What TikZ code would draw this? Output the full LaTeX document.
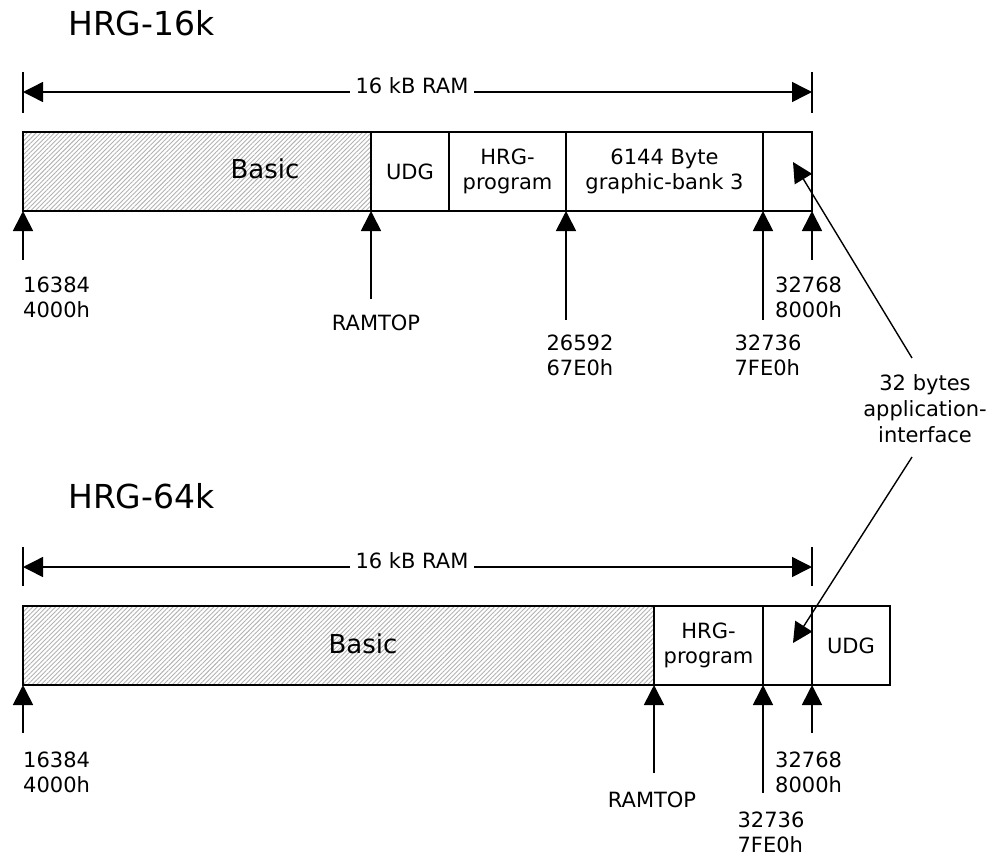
\documentclass[tikz,border=0pt]{standalone}
\usepackage{fontspec}
\setmainfont{DejaVu Sans}
\usetikzlibrary{arrows.meta,patterns.meta,positioning}

\begin{document}
\begin{tikzpicture}[x=1pt, y=-1pt,
    txt/.style={font=\fontsize{21}{25}\selectfont, align=center, inner sep=0pt},
    addr/.style={txt, align=left},
    title/.style={font=\fontsize{33}{40}\selectfont, anchor=base west, inner sep=0pt},
    part/.style={draw, line width=1.7pt, minimum height=79pt, inner sep=0pt, outer sep=0pt,
                 font=\fontsize{21}{25}\selectfont, align=center},
    hatched/.style={pattern={Lines[angle=45,distance=3.2pt,line width=0.9pt]}, pattern color=black!30},
    bigtxt/.style={font=\fontsize{26}{30}\selectfont, inner sep=0pt},
    dim/.style={line width=1.4pt, {Triangle[length=20pt,width=20pt]}-{Triangle[length=20pt,width=20pt]}},
    tick/.style={line width=1.4pt},
    ptr/.style={line width=1.7pt, -{Triangle[length=20pt,width=20pt]}},
    note/.style={line width=1.4pt, -{Triangle[length=20pt,width=20pt]}}]
    \useasboundingbox (0,0) rectangle (1000,857);

    % ---------------- HRG-16k ----------------
    \node[title] (t16) at (68,35) {HRG-16k};

    % 16 kB span
    \coordinate (l16) at (23,92);
    \coordinate (r16) at (812,92);
    \draw[dim] (l16) -- (r16);
    \draw[tick] (23,72) -- (23,113);
    \draw[tick] (812,72) -- (812,113);
    \node[txt, fill=white, inner xsep=6pt, inner ysep=4pt] (ram16) at (412,86) {16 kB RAM};

    % memory blocks
    \node[part, hatched, minimum width=348pt, anchor=north west] (basic16) at (23,132) {};
    \node[part, minimum width=78pt, right=0pt of basic16] (udg16) {UDG};
    \node[part, minimum width=117pt, right=0pt of udg16] (hrg16) {HRG-\\program};
    \node[part, minimum width=197pt, right=0pt of hrg16] (bank16) {6144 Byte\\graphic-bank 3};
    \node[part, minimum width=49pt, right=0pt of bank16] (api16) {};
    \node[bigtxt] (basictxt16) at (265,169) {Basic};

    % addresses
    \coordinate (a16) at (23,260);
    \draw[ptr] (a16) -- (basic16.south west);
    \node[addr, anchor=north west] (a16txt) at (23,277) {16384\\4000h};

    \coordinate (rt16) at (371,299);
    \draw[ptr] (rt16) -- (basic16.south east);
    \node[txt, anchor=north] (rt16txt) at (376,315) {RAMTOP};

    \coordinate (hp16) at (566,320);
    \draw[ptr] (hp16) -- (hrg16.south east);
    \node[addr, anchor=north] (hp16txt) at (580,335) {26592\\67E0h};

    \coordinate (gb16) at (763,320);
    \draw[ptr] (gb16) -- (bank16.south east);
    \node[addr, anchor=north] (gb16txt) at (768,335) {32736\\7FE0h};

    \coordinate (e16) at (812,260);
    \draw[ptr] (e16) -- (api16.south east);
    \node[addr, anchor=north west] (e16txt) at (775,277) {32768\\8000h};

    % ---------------- HRG-64k ----------------
    \node[title] (t64) at (68,508) {HRG-64k};

    % 16 kB span
    \coordinate (l64) at (23,567);
    \coordinate (r64) at (812,567);
    \draw[dim] (l64) -- (r64);
    \draw[tick] (23,547) -- (23,586);
    \draw[tick] (812,547) -- (812,586);
    \node[txt, fill=white, inner xsep=6pt, inner ysep=4pt] (ram64) at (412,561) {16 kB RAM};

    % memory blocks
    \node[part, hatched, minimum width=631pt, anchor=north west] (basic64) at (23,606) {};
    \node[part, minimum width=109pt, right=0pt of basic64] (hrg64) {HRG-\\program};
    \node[part, minimum width=49pt, right=0pt of hrg64] (api64) {};
    \node[part, minimum width=78pt, right=0pt of api64] (udg64) {UDG};
    \node[bigtxt] (basictxt64) at (363,644) {Basic};

    % addresses
    \coordinate (a64) at (23,733);
    \draw[ptr] (a64) -- (basic64.south west);
    \node[addr, anchor=north west] (a64txt) at (23,752) {16384\\4000h};

    \coordinate (rt64) at (654,773);
    \draw[ptr] (rt64) -- (basic64.south east);
    \node[txt, anchor=north] (rt64txt) at (652,792) {RAMTOP};

    \coordinate (gb64) at (763,793);
    \draw[ptr] (gb64) -- (hrg64.south east);
    \node[addr, anchor=north] (gb64txt) at (771,812) {32736\\7FE0h};

    \coordinate (e64) at (812,733);
    \draw[ptr] (e64) -- (api64.south east);
    \node[addr, anchor=north west] (e64txt) at (775,752) {32768\\8000h};

    % application interface
    \node[txt, font=\fontsize{21}{26}\selectfont] (ifc) at (925,409) {32 bytes\\application-\\interface};
    \coordinate (ifcN) at (912,358);
    \coordinate (ifcS) at (912,457);
    \coordinate (tip16) at (793,162);
    \coordinate (tip64) at (793,643);
    \draw[note] (ifcN) -- (tip16);
    \draw[note] (ifcS) -- (tip64);
\end{tikzpicture}
\end{document}
